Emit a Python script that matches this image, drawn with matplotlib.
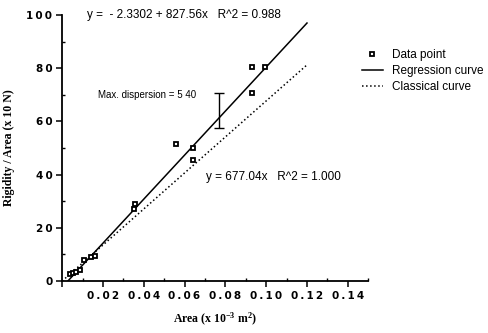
import matplotlib.pyplot as plt
import numpy as np
from matplotlib.ticker import FuncFormatter, MultipleLocator

plt.rcParams['mathtext.fontset'] = 'custom'
plt.rcParams['mathtext.rm'] = 'Liberation Serif:bold'
plt.rcParams['mathtext.it'] = 'Liberation Serif:bold'
plt.rcParams['mathtext.bf'] = 'Liberation Serif:bold'

# measured points (area x 10^-3 m2, rigidity/area x 10 N)
area = [0.0040, 0.0054, 0.0068, 0.0088, 0.0107, 0.0141, 0.0160,
        0.0350, 0.0356, 0.0560, 0.0640, 0.0640, 0.0932, 0.0932, 0.0995]
rigidity = [2.5, 3.0, 3.4, 4.1, 7.9, 9.2, 9.6,
            27.0, 29.0, 51.5, 50.0, 45.5, 80.5, 70.5, 80.5]

REG_A = -2.3302
REG_B = 827.56
CLASS_B = 677.04
reg_x = [0.0028, 0.12]
class_x = [0.0, 0.12]

err_x = 0.077
err_lo = 57.5
err_hi = 70.5


def spaced(v, fmt):
    return '\u2009'.join(fmt.format(v))


fig = plt.figure(figsize=(4.89, 3.33), dpi=100)
ax = fig.add_axes([0.127, 0.156, 0.626, 0.799])

ax.plot(area, rigidity, 's', color='black', mfc='white', ms=3.4, mew=1.3,
        label='Data point', zorder=3)
rx = np.array(reg_x)
ax.plot(rx, REG_A + REG_B * rx, '-', color='black', lw=1.1,
        label='Regression curve')
cx = np.array(class_x)
ax.plot(cx, CLASS_B * cx, ':', color='black', lw=1.1,
        label='Classical curve')

ax.errorbar([err_x], [(err_lo + err_hi) / 2], yerr=[(err_hi - err_lo) / 2],
            fmt='none', ecolor='black', elinewidth=1.0, capsize=3.5, capthick=1.0)

ax.set_xlim(0, 0.15)
ax.set_ylim(0, 100)
ax.spines['top'].set_visible(False)
ax.spines['right'].set_visible(False)
ax.spines['left'].set_linewidth(1.3)
ax.spines['bottom'].set_linewidth(1.3)

ax.xaxis.set_major_locator(MultipleLocator(0.02))
ax.xaxis.set_minor_locator(MultipleLocator(0.01))
ax.yaxis.set_major_locator(MultipleLocator(20))
ax.yaxis.set_minor_locator(MultipleLocator(10))
ax.xaxis.set_major_formatter(FuncFormatter(lambda v, p: '' if v == 0 else spaced(v, '{:.2f}')))
ax.yaxis.set_major_formatter(FuncFormatter(lambda v, p: spaced(v, '{:.0f}')))
ax.tick_params(which='major', direction='out', length=4, width=1.1,
               labelsize=7.5, pad=3)
ax.tick_params(which='minor', direction='in', length=2.5, width=1.0)
for lab in ax.get_xticklabels() + ax.get_yticklabels():
    lab.set_fontweight('bold')
    lab.set_family('DejaVu Sans')

tfont = dict(family='Liberation Sans', fontsize=8.5, color='black')
ax.text(0.0122, 100, 'y =  - 2.3302 + 827.56x   R^2 = 0.988', va='center', **tfont)
ax.text(0.0707, 39, 'y = 677.04x   R^2 = 1.000', va='center', **tfont)
ax.text(0.0176, 70, 'Max. dispersion = 5 40', va='center',
        family='Liberation Sans', fontsize=7, color='black')

ax.set_xlabel('Area (x 10$^{-3}$ m$^{2}$)', family='Liberation Serif',
              fontweight='bold', fontsize=8.5, labelpad=7)
ax.set_ylabel('Rigidity / Area (x 10 N)', family='Liberation Serif',
              fontweight='bold', fontsize=8.5, labelpad=8)

fig.legend(loc='upper left', bbox_to_anchor=(0.718, 0.885), frameon=False,
           prop={'family': 'Liberation Sans', 'size': 8.5}, handlelength=1.8,
           handletextpad=0.8, labelspacing=0.35)

fig.savefig('out.png', dpi=100)
